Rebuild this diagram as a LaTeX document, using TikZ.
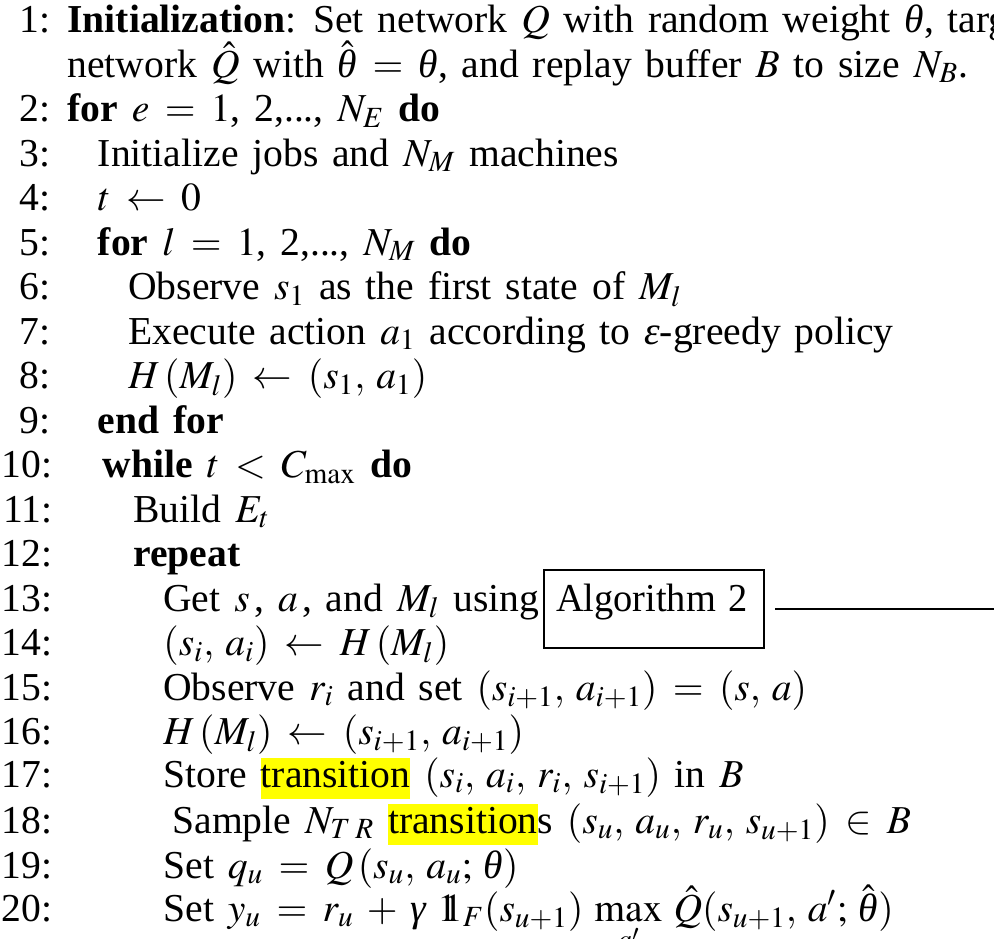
\documentclass[tikz,border=0pt]{standalone}
\usepackage{mathptmx}
\usepackage[no-math]{fontspec}
\setmainfont{Liberation Serif}[WordSpace=1.4]
\definecolor{hlyellow}{RGB}{255,255,0}
% yellow marker behind a word
\newcommand\hlw[1]{{\setlength{\fboxsep}{0pt}\colorbox{hlyellow}{\rule[-6pt]{0pt}{20.5pt}#1}}}
% indicator function symbol
\newcommand\indic{\mathrm{1}\mkern-6.5mu\mathrm{1}}
% Greek letters in the italic text face
\newcommand\vth{\mbox{\itshape θ}}
\newcommand\veps{\mbox{\itshape ε}}
\newcommand\vgam{\mbox{\itshape γ}}
% looser math spacing
\thinmuskip=5mu
\medmuskip=6mu plus 2mu minus 2mu
\thickmuskip=7mu plus 3mu
\tikzset{
  lnum/.style={anchor=base east, inner sep=0pt},
  ltext/.style={anchor=base west, inner sep=0pt},
  refbox/.style={draw, line width=1pt, anchor=base west, inner xsep=6pt, inner ysep=0pt,
    text width=98pt, align=left, text height=20.5pt, text depth=18.5pt},
}
\begin{document}
\begin{tikzpicture}[x=0.5pt,y=-0.5pt,font=\fontsize{19.8}{24}\selectfont]
\useasboundingbox (0,0) rectangle (994,938);
\clip (0,0) rectangle (994,938);

% line numbers
\node[lnum] (n1)  at (51,32.5)  {1:};
\node[lnum] (n2)  at (51,121.5) {2:};
\node[lnum] (n3)  at (51,166)   {3:};
\node[lnum] (n4)  at (51,210.5) {4:};
\node[lnum] (n5)  at (51,255)   {5:};
\node[lnum] (n6)  at (51,299.5) {6:};
\node[lnum] (n7)  at (51,344)   {7:};
\node[lnum] (n8)  at (51,388.5) {8:};
\node[lnum] (n9)  at (51,433)   {9:};
\node[lnum] (n10) at (53,477.5) {10:};
\node[lnum] (n11) at (53,522)   {11:};
\node[lnum] (n12) at (53,566.5) {12:};
\node[lnum] (n13) at (53,611)   {13:};
\node[lnum] (n14) at (53,655.5) {14:};
\node[lnum] (n15) at (53,700)   {15:};
\node[lnum] (n16) at (53,744.5) {16:};
\node[lnum] (n17) at (53,787)   {17:};
\node[lnum] (n18) at (53,833)   {18:};
\node[lnum] (n19) at (53,878)   {19:};
\node[lnum] (n20) at (53,921)   {20:};

% algorithm body
\node[ltext] (t1)  at (67,32.5)   {\textbf{Initialization}: Set network $Q$ with random weight $\vth$, target};
\node[ltext] (t1b) at (67,77)     {network $\hat{Q}$ with $\hat{\vth} = \vth$, and replay buffer $B$ to size $N_B$.};
\node[ltext] (t2)  at (67,121.5)  {\textbf{for} $e = 1$, 2,..., $N_E$ \textbf{do}};
\node[ltext] (t3)  at (97.5,166)  {Initialize jobs and $N_M$ machines};
\node[ltext] (t4)  at (97.5,210.5){$t \leftarrow 0$};
\node[ltext] (t5)  at (97.5,255)  {\textbf{for} $l = 1$, 2,..., $N_M$ \textbf{do}};
\node[ltext] (t6)  at (128,299.5) {Observe $s_1$ as the first state of $M_l$};
\node[ltext] (t7)  at (128,344)   {Execute action $a_1$ according to $\veps$-greedy policy};
\node[ltext] (t8)  at (128,388.5) {$H\mkern2mu(M_l) \leftarrow (s_1, a_1)$};
\node[ltext] (t9)  at (97.5,433)  {\textbf{end for}};
\node[ltext] (t10) at (102.5,477.5){\textbf{while} $t < C_{\max}$ \textbf{do}};
\node[ltext] (t11) at (133,522)   {Build $E_t$};
\node[ltext] (t12) at (133,566.5) {\textbf{repeat}};
\node[ltext] (t13) at (163,611)   {Get $s\mkern2mu$, $a\mkern2mu$, and $M_l$ using};
\node[refbox] (alg) at (543,611)  {\scalebox{0.97}[1]{Algorithm 2}};
\node[ltext] (t14) at (163,655.5) {$(s_i, a_i) \leftarrow H\mkern2mu(M_l)$};
\node[ltext] (t15) at (163,700)   {Observe $r_i$ and set $(s_{i+1}, a_{i+1}) = (s, a)$};
\node[ltext] (t16) at (163,744.5) {$H\mkern2mu(M_l) \leftarrow (s_{i+1}, a_{i+1})$};
\node[ltext] (t17) at (163,787)   {Store \hlw{transition} $(s_i, a_i, r_i, s_{i+1})$ in $B$};
\node[ltext] (t18) at (172,833)   {Sample $N_{T\mkern3mu R}$ \hlw{transition}s $(s_u, a_u, r_u, s_{u+1}) \in B$};
\node[ltext] (t19) at (163,878)   {Set $q_u = Q\mkern2mu(s_u, a_u; \vth)$};
\node[ltext] (t20) at (163,921)   {Set $y_u = r_u + \vgam\, \indic_F(s_{u+1}) \max\limits_{a'} \hat{Q}(s_{u+1}, a'; \hat{\vth})$};

% pointer leaving the reference box
\coordinate (edge) at (994,609);
\draw[line width=1pt] ([xshift=5pt]alg.east) -- (edge);
\end{tikzpicture}
\end{document}
